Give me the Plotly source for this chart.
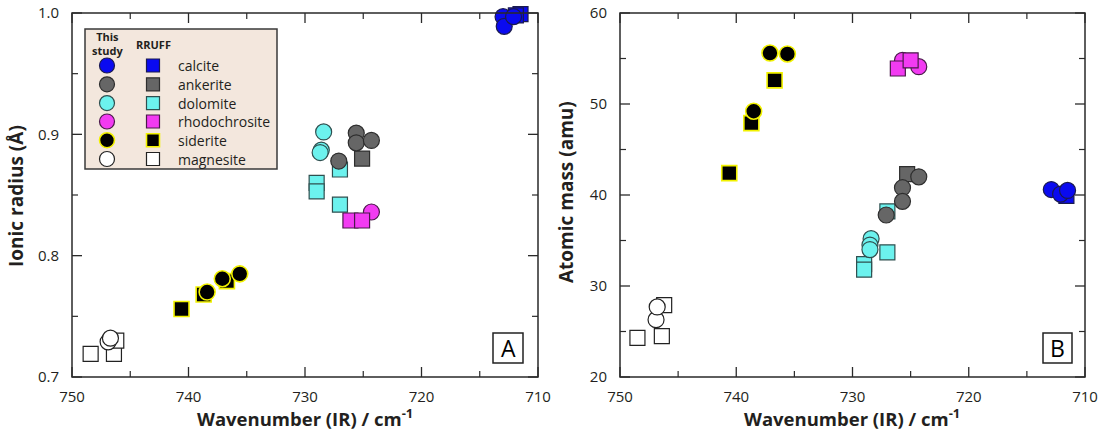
import plotly.graph_objects as go

# ---------------- data ----------------
minerals = ["calcite", "ankerite", "dolomite", "rhodochrosite", "siderite", "magnesite"]
fills = {"calcite": "#0A0AF0", "ankerite": "#666666", "dolomite": "#6CF2EE",
         "rhodochrosite": "#F23BF2", "siderite": "#000000", "magnesite": "#FFFFFF"}
edges = {"calcite": "#1A1A50", "ankerite": "#2E2E2E", "dolomite": "#2F4F4F",
         "rhodochrosite": "#4A1A4A", "siderite": "#F2F200", "magnesite": "#222222"}

# Panel A: ionic radius (Å) vs wavenumber
a_study_wn = {
    "magnesite": [746.9, 746.7],
    "siderite": [738.4, 737.1, 735.6],
    "dolomite": [728.4, 728.6, 728.7],
    "ankerite": [725.6, 725.6, 724.3, 727.1],
    "rhodochrosite": [724.3],
    "calcite": [713.0, 712.9, 712.1],
}
a_study_r = {
    "magnesite": [0.729, 0.732],
    "siderite": [0.770, 0.781, 0.785],
    "dolomite": [0.902, 0.887, 0.885],
    "ankerite": [0.901, 0.893, 0.895, 0.878],
    "rhodochrosite": [0.836],
    "calcite": [0.997, 0.989, 0.997],
}
a_rruff_wn = {
    "magnesite": [748.4, 746.4, 746.2],
    "siderite": [740.6, 738.7, 736.7],
    "dolomite": [727.0, 729.0, 729.0, 727.0],
    "ankerite": [725.1],
    "rhodochrosite": [726.1, 725.1],
    "calcite": [711.5, 711.9],
}
a_rruff_r = {
    "magnesite": [0.719, 0.719, 0.730],
    "siderite": [0.756, 0.768, 0.779],
    "dolomite": [0.871, 0.860, 0.853, 0.842],
    "ankerite": [0.880],
    "rhodochrosite": [0.829, 0.829],
    "calcite": [0.999, 0.998],
}

# Panel B: atomic mass (amu) vs wavenumber
b_study_wn = {
    "magnesite": [746.9, 746.8],
    "siderite": [737.1, 735.6, 738.5],
    "dolomite": [728.4, 728.5, 728.5],
    "ankerite": [724.3, 725.7, 725.7, 727.1],
    "rhodochrosite": [725.7, 724.3],
    "calcite": [712.9, 712.1, 711.5],
}
b_study_m = {
    "magnesite": [26.3, 27.7],
    "siderite": [55.6, 55.5, 49.2],
    "dolomite": [35.2, 34.5, 34.0],
    "ankerite": [42.0, 40.8, 39.3, 37.8],
    "rhodochrosite": [54.8, 54.1],
    "calcite": [40.6, 40.1, 40.5],
}
b_rruff_wn = {
    "magnesite": [748.5, 746.4, 746.2],
    "siderite": [736.7, 738.7, 740.6],
    "dolomite": [727.0, 729.0, 729.0, 727.0],
    "ankerite": [725.3],
    "rhodochrosite": [726.1, 725.0],
    "calcite": [711.6],
}
b_rruff_m = {
    "magnesite": [24.3, 24.5, 27.9],
    "siderite": [52.6, 47.9, 42.4],
    "dolomite": [38.2, 32.4, 31.8, 33.7],
    "ankerite": [42.3],
    "rhodochrosite": [53.9, 54.8],
    "calcite": [39.9],
}

# axes ranges and tick values
x_range = [750, 710]
x_major = [750, 740, 730, 720, 710]
x_minor = [745, 735, 725, 715]
a_y_range = [0.7, 1.0]
a_y_major = [0.7, 0.8, 0.9, 1.0]
a_y_minor = [0.75, 0.85, 0.95]
b_y_range = [20, 60]
b_y_major = [20, 30, 40, 50, 60]
b_y_minor = [25, 35, 45, 55]

# drawing order (back to front): (mineral, kind)
order = [("magnesite", "sq"), ("magnesite", "ci"), ("siderite", "sq"), ("siderite", "ci"),
         ("dolomite", "sq"), ("dolomite", "ci"), ("ankerite", "sq"), ("ankerite", "ci"),
         ("rhodochrosite", "ci"), ("rhodochrosite", "sq"), ("calcite", "sq"), ("calcite", "ci")]

FONT = "Open Sans"
TXT = "#231F20"
LC = "#2A2A2A"
W, H = 1105, 439
ML, MR, MT, MB = 72, 20, 13, 62
PW, PH = W - ML - MR, H - MT - MB
PANEL_A_X = (72, 538)
PANEL_B_X = (620, 1085)
PANEL_Y = (13, 377)


def px(x):
    return (x - ML) / PW


def py(y):
    return (H - MB - y) / PH


fig = go.Figure()


def add_panel(xa, ya, s_wn, s_v, r_wn, r_v):
    for m, kind in order:
        if kind == "ci":
            xs, ys, sym, size = s_wn[m], s_v[m], "circle", 16
        else:
            xs, ys, sym, size = r_wn[m], r_v[m], "square", 15
        lw = 1.6 if m == "siderite" else 1.2
        fig.add_trace(go.Scatter(
            x=xs, y=ys, mode="markers", xaxis=xa, yaxis=ya, showlegend=False,
            cliponaxis=False,
            marker=dict(symbol=sym, size=size, color=fills[m],
                        line=dict(color=edges[m], width=lw))))


add_panel("x", "y", a_study_wn, a_study_r, a_rruff_wn, a_rruff_r)
add_panel("x2", "y2", b_study_wn, b_study_m, b_rruff_wn, b_rruff_m)

shapes = []
annotations = []

# ---------------- frames and inside ticks on all four sides (paper coords) ----------------
MAJ, MIN = 10, 6


def frame_and_ticks(xpix, xr, yr, ymaj, ymin):
    x0p, x1p = xpix
    y0p, y1p = PANEL_Y  # top, bottom pixel

    def vx(v):
        return x0p + (v - xr[0]) / (xr[1] - xr[0]) * (x1p - x0p)

    def vy(v):
        return y1p - (v - yr[0]) / (yr[1] - yr[0]) * (y1p - y0p)

    for vals, ln, wd in ((x_major, MAJ, 1.3), (x_minor, MIN, 1.2)):
        for v in vals:
            X = vx(v)
            for (a, b) in ((y1p, y1p - ln), (y0p, y0p + ln)):
                shapes.append(dict(type="line", xref="paper", yref="paper",
                                   x0=px(X), x1=px(X), y0=py(a), y1=py(b),
                                   line=dict(color=LC, width=wd), layer="above"))
    for vals, ln, wd in ((ymaj, MAJ, 1.3), (ymin, MIN, 1.2)):
        for v in vals:
            Y = vy(v)
            for (a, b) in ((x0p, x0p + ln), (x1p, x1p - ln)):
                shapes.append(dict(type="line", xref="paper", yref="paper",
                                   x0=px(a), x1=px(b), y0=py(Y), y1=py(Y),
                                   line=dict(color=LC, width=wd), layer="above"))
    shapes.append(dict(type="rect", xref="paper", yref="paper",
                       x0=px(x0p), x1=px(x1p), y0=py(y1p), y1=py(y0p),
                       line=dict(color=LC, width=1.5), fillcolor="rgba(0,0,0,0)",
                       layer="above"))


frame_and_ticks(PANEL_A_X, x_range, a_y_range, a_y_major, a_y_minor)
frame_and_ticks(PANEL_B_X, x_range, b_y_range, b_y_major, b_y_minor)

# ---------------- custom legend ----------------
leg_rows_y = [65.5, 84.3, 103.1, 121.5, 140.2, 159.0]
leg_circle_x = 107
leg_square_x = 153
leg_text_x = 176

shapes.append(dict(type="rect", xref="paper", yref="paper", x0=px(85), x1=px(277),
                   y0=py(169), y1=py(29), fillcolor="#F3E7DD",
                   line=dict(color="#3A3A3A", width=1.5), layer="above"))
for m, yy in zip(minerals, leg_rows_y):
    lw = 1.6 if m == "siderite" else 1.2
    r = 7.5
    shapes.append(dict(type="circle", xref="paper", yref="paper",
                       x0=px(leg_circle_x - r), x1=px(leg_circle_x + r),
                       y0=py(yy + r), y1=py(yy - r), fillcolor=fills[m],
                       line=dict(color=edges[m], width=lw), layer="above"))
    s = 6.5
    shapes.append(dict(type="rect", xref="paper", yref="paper",
                       x0=px(leg_square_x - s), x1=px(leg_square_x + s),
                       y0=py(yy + s), y1=py(yy - s), fillcolor=fills[m],
                       line=dict(color=edges[m], width=lw), layer="above"))
    annotations.append(dict(x=px(leg_text_x), y=py(yy), xref="paper", yref="paper", text=m,
                            showarrow=False, xanchor="left", yanchor="middle",
                            font=dict(family=FONT, size=14, color=TXT)))
annotations.append(dict(x=px(107), y=py(43), xref="paper", yref="paper",
                        text="<b>This<br>study</b>", showarrow=False,
                        xanchor="center", yanchor="middle",
                        font=dict(family=FONT, size=11, color=TXT)))
annotations.append(dict(x=px(153), y=py(44), xref="paper", yref="paper",
                        text="<b>RRUFF</b>", showarrow=False,
                        xanchor="center", yanchor="middle",
                        font=dict(family=FONT, size=11, color=TXT)))

# axis titles
for cx in (305, 852):
    annotations.append(dict(x=px(cx), y=py(417), xref="paper", yref="paper",
                            text="<b>Wavenumber (IR) / cm<sup>-1</sup></b>", showarrow=False,
                            xanchor="center", yanchor="middle",
                            font=dict(family=FONT, size=18.5, color=TXT)))
annotations.append(dict(x=px(16), y=py(196), xref="paper", yref="paper",
                        text="<b>Ionic radius (Å)</b>", showarrow=False, textangle=-90,
                        xanchor="center", yanchor="middle",
                        font=dict(family=FONT, size=19, color=TXT)))
annotations.append(dict(x=px(566), y=py(192), xref="paper", yref="paper",
                        text="<b>Atomic mass (amu)</b>", showarrow=False, textangle=-90,
                        xanchor="center", yanchor="middle",
                        font=dict(family=FONT, size=19, color=TXT)))
# panel letters with boxes
for (x0, x1, lab) in ((493, 523, "A"), (1043, 1072, "B")):
    shapes.append(dict(type="rect", xref="paper", yref="paper", x0=px(x0), x1=px(x1),
                       y0=py(363), y1=py(333), fillcolor="rgba(0,0,0,0)",
                       line=dict(color="#222", width=1.5), layer="above"))
    annotations.append(dict(x=px((x0 + x1) / 2), y=py(348), xref="paper", yref="paper",
                            text=lab, showarrow=False, xanchor="center", yanchor="middle",
                            font=dict(family=FONT, size=23, color="#000")))

axis_common = dict(showline=False, ticks="", showgrid=False, zeroline=False,
                   automargin=False, tickfont=dict(family=FONT, size=15, color=TXT))

fig.update_layout(
    width=W, height=H, autosize=False,
    margin=dict(l=ML, r=MR, t=MT, b=MB),
    paper_bgcolor="white", plot_bgcolor="rgba(0,0,0,0)",
    template="none",
    xaxis=dict(domain=[px(PANEL_A_X[0]), px(PANEL_A_X[1])], anchor="y", range=x_range,
               tickvals=x_major, ticklabelstandoff=9, **axis_common),
    yaxis=dict(domain=[0, 1], anchor="x", range=a_y_range, tickvals=a_y_major,
               tickformat=".1f", ticklabelstandoff=12, **axis_common),
    xaxis2=dict(domain=[px(PANEL_B_X[0]), px(PANEL_B_X[1])], anchor="y2", range=x_range,
                tickvals=x_major, ticklabelstandoff=9, **axis_common),
    yaxis2=dict(domain=[0, 1], anchor="x2", range=b_y_range, tickvals=b_y_major,
                ticklabelstandoff=12, **axis_common),
    shapes=shapes,
    annotations=annotations,
    showlegend=False,
)

fig.write_html("out.html", config={"displayModeBar": False},
               post_script="document.body.style.margin='0';document.body.style.overflow='hidden';")
